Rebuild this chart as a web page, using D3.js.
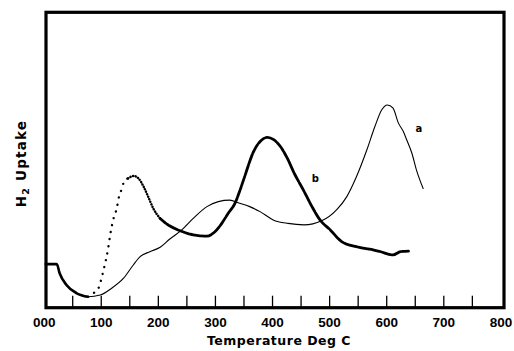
<!DOCTYPE html>
<html>
<head>
<meta charset="utf-8">
<script src="https://cdn.jsdelivr.net/npm/d3@7"></script>
<style>
  body { margin: 0; background: #fff; }
  svg { display: block; }
  .tick-label { font-family: "Liberation Sans", Arial, sans-serif; font-weight: bold; font-size: 13.5px; }
  .title { font-family: "DejaVu Sans", sans-serif; font-weight: bold; }
</style>
</head>
<body>
<div id="chart"></div>
<script>
// Temperature (deg C) and H2 uptake (arbitrary units)
const tempA = [2, 23, 28, 40, 58, 78, 99, 119, 140, 157, 169, 186, 204, 221, 242, 262, 286, 306, 326, 341,
  361, 379, 402, 428, 456, 487, 513, 531, 548, 566, 580, 592, 602, 612, 621, 630, 636, 645, 653, 659, 665];
const uptakeA = [14.8, 14.8, 11.7, 7.7, 4.9, 3.7, 4.3, 6.6, 10.0, 14.5, 17.3, 19.0, 20.5, 23.3, 26.4, 30.3, 34.3, 36.0, 36.5, 35.6,
  34.3, 32.6, 29.8, 28.6, 28.1, 29.5, 33.2, 37.7, 44.5, 53.5, 61.4, 67.1, 68.8, 67.7, 62.8, 59.8, 56.9, 52.4, 46.7, 43.3, 40.3];

const tempB = [2, 23, 28, 40, 58, 78, 87, 96, 103, 109, 113, 117, 122, 128, 132, 136, 141, 148, 158, 166,
  175, 183, 192, 204, 218, 239, 262, 286, 300, 312, 323, 335, 344, 350, 369, 380, 392, 403, 415, 426,
  440, 455, 470, 484, 502, 522, 548, 577, 590, 612, 625, 639];
const uptakeB = [14.8, 14.8, 11.7, 7.7, 4.9, 3.7, 4.9, 6.6, 11.3, 16.2, 20.2, 25.2, 30.0, 33.7, 37.7, 39.9, 42.8, 43.9, 44.7, 43.9,
  41.1, 37.7, 33.7, 30.3, 28.1, 26.1, 24.7, 24.3, 25.8, 28.6, 32.0, 35.4, 39.9, 43.3, 53.5, 56.6, 57.8, 57.0, 54.6, 51.0,
  45.2, 39.9, 34.3, 29.8, 26.4, 22.4, 20.7, 19.6, 19.0, 17.9, 19.0, 19.2];

// where trace b changes from solid to sparse dots, dense dots, then dashed
const bBreaks = [78, 148, 204];

const xTicks = d3.range(50, 800, 50);
const xLabels = d3.range(0, 801, 100);

const curveLabels = [
  { name: "a", temp: 657, uptake: 59.7 },
  { name: "b", temp: 476, uptake: 42.6 }
];

const width = 514, height = 351;

const svg = d3.select("#chart").append("svg")
  .attr("width", width)
  .attr("height", height);

const x = d3.scaleLinear().domain([0, 800]).range([43.65, 500.4]);
const y = d3.scaleLinear().domain([0, 100]).range([307.7, 13]);

// frame
svg.append("rect")
  .attr("x", 46).attr("y", 12.3)
  .attr("width", 458).attr("height", 295.4)
  .attr("fill", "none")
  .attr("stroke", "#000")
  .attr("stroke-width", 3.2);

// inward ticks on the bottom edge
svg.append("g")
  .attr("transform", "translate(0,307.7)")
  .call(d3.axisTop(x).tickValues(xTicks).tickSize(12).tickFormat(""))
  .call(g => g.select(".domain").remove())
  .call(g => g.selectAll("line").attr("stroke-width", 1.3));

// tick labels
svg.append("g")
  .attr("transform", "translate(0,307.7)")
  .call(d3.axisBottom(x).tickValues(xLabels).tickSize(0).tickPadding(9.4).tickFormat(d3.format("03d")))
  .call(g => g.select(".domain").remove())
  .call(g => g.selectAll("text")
    .attr("class", "tick-label")
    .attr("fill", "#000"));

// axis titles
svg.append("text")
  .attr("class", "title")
  .attr("x", 279)
  .attr("y", 345.3)
  .attr("text-anchor", "middle")
  .attr("font-size", 12.5)
  .attr("letter-spacing", 0.5)
  .text("Temperature Deg C");

const yTitle = svg.append("text")
  .attr("class", "title")
  .attr("transform", "translate(26.3,163.5) rotate(-90)")
  .attr("text-anchor", "middle")
  .attr("font-size", 13.5)
  .attr("letter-spacing", 1.2);
yTitle.append("tspan").text("H");
yTitle.append("tspan").attr("font-size", 9.5).attr("dy", 3).text("2");
yTitle.append("tspan").attr("dy", -3).text(" Uptake");

const line = d3.line()
  .x(d => x(d[0]))
  .y(d => y(d[1]))
  .curve(d3.curveMonotoneX);

const seriesA = tempA.map((t, i) => [t, uptakeA[i]]);
const seriesB = tempB.map((t, i) => [t, uptakeB[i]]);

// trace a: thin line
svg.append("path")
  .attr("d", line(seriesA))
  .attr("fill", "none")
  .attr("stroke", "#000")
  .attr("stroke-width", 1.1);

// trace b: heavy, partly dotted
const part = (lo, hi) => seriesB.filter(d => d[0] >= lo && d[0] <= hi);
const bStyles = [
  { lo: 0, hi: bBreaks[0], w: 2.6, dash: null },
  { lo: bBreaks[0], hi: bBreaks[1], w: 2.3, dash: "0.1,7" },
  { lo: bBreaks[1], hi: bBreaks[2], w: 2.5, dash: "0.1,2.6" },
  { lo: bBreaks[2], hi: 800, w: 2.8, dash: "10,1.4" }
];
bStyles.forEach(s => {
  svg.append("path")
    .attr("d", line(part(s.lo, s.hi)))
    .attr("fill", "none")
    .attr("stroke", "#000")
    .attr("stroke-width", s.w)
    .attr("stroke-linecap", s.dash ? "round" : "butt")
    .attr("stroke-dasharray", s.dash);
});

// curve labels
svg.selectAll(".curve-label")
  .data(curveLabels)
  .join("text")
  .attr("class", "curve-label title")
  .attr("x", d => x(d.temp))
  .attr("y", d => y(d.uptake))
  .attr("text-anchor", "middle")
  .attr("font-size", 10)
  .text(d => d.name);
</script>
</body>
</html>
